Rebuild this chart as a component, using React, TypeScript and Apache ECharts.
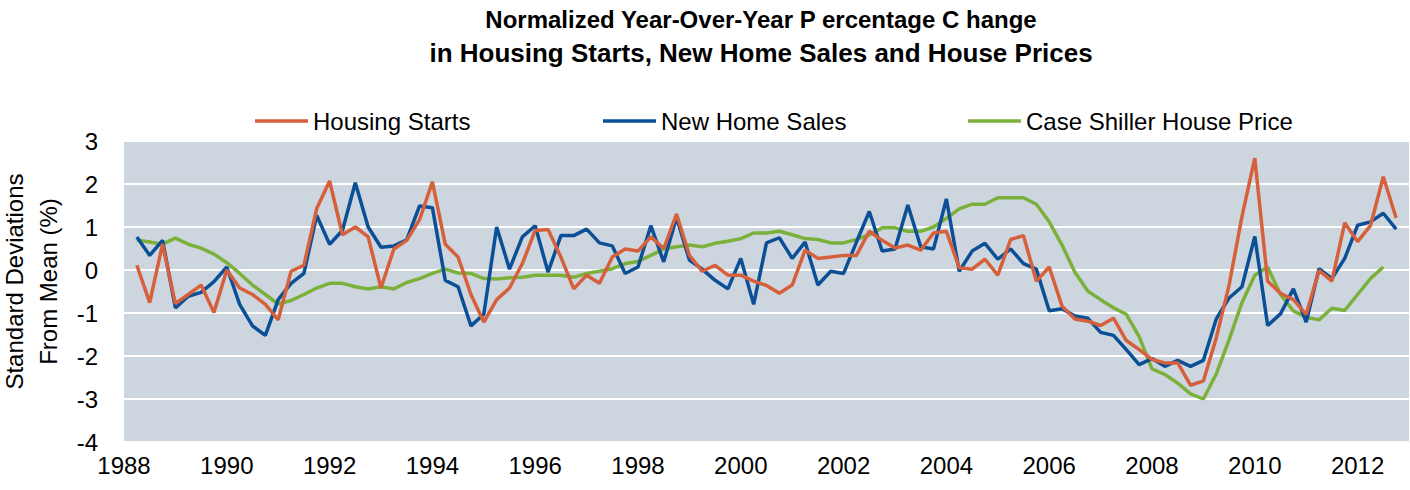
import React, { useEffect, useRef } from "react";
import * as echarts from "echarts";

// Quarterly observations, first at 1988 Q2, one every quarter
const FIRST_QUARTER = 1988.25;
const QUARTER_STEP = 0.25;

const seriesNames = ["Housing Starts", "New Home Sales", "Case Shiller House Price"];

const housingStarts = [
  0.11, -0.76, 0.6, -0.78, -0.57, -0.35, -0.99, 0.0, -0.42, -0.57, -0.8, -1.16, -0.03, 0.11, 1.43, 2.07,
  0.82, 1.0, 0.77, -0.42, 0.49, 0.69, 1.17, 2.05, 0.6, 0.3, -0.57, -1.21, -0.69, -0.42, 0.15, 0.92,
  0.94, 0.3, -0.44, -0.12, -0.31, 0.3, 0.49, 0.44, 0.77, 0.5, 1.3, 0.34, -0.03, 0.11, -0.12, -0.12, -0.26, -0.36,
  -0.54, -0.35, 0.46, 0.27, 0.3, 0.34, 0.34, 0.9, 0.69, 0.51, 0.58, 0.46, 0.86, 0.9, 0.05, 0.02, 0.25,
  -0.12, 0.71, 0.8, -0.26, 0.07, -0.84, -1.14, -1.19, -1.29, -1.12, -1.64, -1.85, -2.08, -2.16, -2.16, -2.68,
  -2.58, -1.58, -0.35, 1.24, 2.6, -0.26, -0.54, -0.69, -1.03, -0.01, -0.26, 1.1, 0.66, 1.03, 2.17, 1.21,
];

const newHomeSales = [
  0.77, 0.34, 0.69, -0.88, -0.61, -0.52, -0.27, 0.07, -0.8, -1.3, -1.52, -0.69, -0.31, -0.08, 1.27, 0.6,
  0.92, 2.03, 1.0, 0.53, 0.56, 0.7, 1.49, 1.45, -0.24, -0.39, -1.3, -1.03, 1.0, 0.02, 0.77, 1.03,
  -0.05, 0.8, 0.8, 0.95, 0.63, 0.56, -0.08, 0.07, 1.03, 0.19, 1.22, 0.23, 0.02, -0.24, -0.44, 0.27, -0.8, 0.63,
  0.75, 0.27, 0.65, -0.35, -0.03, -0.08, 0.65, 1.36, 0.44, 0.49, 1.51, 0.54, 0.49, 1.65, -0.03, 0.44, 0.62,
  0.25, 0.49, 0.15, 0.02, -0.95, -0.9, -1.07, -1.12, -1.45, -1.52, -1.85, -2.2, -2.06, -2.24, -2.1, -2.24,
  -2.1, -1.14, -0.65, -0.39, 0.78, -1.29, -1.02, -0.44, -1.21, 0.03, -0.2, 0.27, 1.04, 1.12, 1.32, 0.95,
];

const caseShiller = [
  0.7, 0.65, 0.6, 0.74, 0.6, 0.51, 0.37, 0.17, -0.08, -0.35, -0.57, -0.79, -0.71, -0.57, -0.42, -0.31,
  -0.31, -0.39, -0.44, -0.39, -0.44, -0.29, -0.2, -0.08, 0.02, -0.07, -0.08, -0.2, -0.21, -0.18, -0.17, -0.12,
  -0.12, -0.12, -0.17, -0.08, -0.03, 0.03, 0.15, 0.2, 0.34, 0.49, 0.54, 0.58, 0.54, 0.62, 0.67, 0.73, 0.86, 0.86,
  0.9, 0.82, 0.73, 0.71, 0.63, 0.63, 0.71, 0.82, 0.98, 0.98, 0.9, 0.9, 1.0, 1.2, 1.42, 1.53, 1.53,
  1.68, 1.68, 1.68, 1.53, 1.12, 0.58, -0.05, -0.49, -0.69, -0.88, -1.03, -1.55, -2.3, -2.43, -2.63, -2.88,
  -3.0, -2.42, -1.62, -0.76, -0.12, 0.07, -0.57, -0.95, -1.1, -1.16, -0.89, -0.94, -0.57, -0.2, 0.07,
];

const titleLines = [
  "Normalized Year-Over-Year P ercentage C hange",
  "in Housing Starts, New Home Sales and House Prices",
];
const yAxisTitle = "Standard Deviations\nFrom Mean (%)";

const X_MIN = 1988;
const X_MAX = 2013;
const X_INTERVAL = 2;
const Y_MIN = -4;
const Y_MAX = 3;
const Y_INTERVAL = 1;

const COLORS = ["#D65F3C", "#0B4F96", "#7BB13A"];
const FONT = "'Liberation Sans', Arial, sans-serif";

function toPoints(values: number[]) {
  return values.map((v, i) => [FIRST_QUARTER + i * QUARTER_STEP, v]);
}

export default function App() {
  const ref = useRef<HTMLDivElement>(null);

  useEffect(() => {
    document.body.style.margin = "0";
    if (!ref.current) return;
    const chart = echarts.init(ref.current, undefined, { renderer: "svg" });
    const allValues = [housingStarts, newHomeSales, caseShiller];
    const legendLeft = [250, 598, 963];
    const titleSizes = [24, 26];
    const titleY = [19, 53];

    chart.setOption({
      animation: false,
      backgroundColor: "#ffffff",
      textStyle: { fontFamily: FONT },
      graphic: titleLines.map((t, i) => ({
        type: "text",
        x: 761,
        y: titleY[i],
        style: {
          text: t,
          fill: "#000",
          font: `bold ${titleSizes[i]}px ${FONT}`,
          textAlign: "center",
          textVerticalAlign: "middle",
        },
      })),
      legend: seriesNames.map((name, i) => ({
        data: [name],
        left: legendLeft[i],
        top: 104,
        icon: "rect",
        itemWidth: 53,
        itemHeight: 3.5,
        itemGap: 0,
        textStyle: { fontSize: 24, color: "#000", fontFamily: FONT },
      })),
      grid: {
        left: 124,
        right: 1,
        top: 141,
        bottom: 48,
        show: true,
        backgroundColor: "#CDD6DF",
        borderWidth: 0,
        containLabel: false,
        outerBoundsMode: "none",
      },
      xAxis: {
        type: "value",
        min: X_MIN,
        max: X_MAX,
        interval: X_INTERVAL,
        axisLine: { show: false },
        axisTick: { show: false },
        splitLine: { show: false },
        axisLabel: {
          fontSize: 24,
          color: "#000",
          fontFamily: FONT,
          margin: 11,
          showMaxLabel: false,
          formatter: (v: number) => (v % 2 === 0 ? String(v) : ""),
        },
      },
      yAxis: {
        type: "value",
        min: Y_MIN,
        max: Y_MAX,
        interval: Y_INTERVAL,
        axisLine: { show: false },
        axisTick: { show: false },
        splitLine: { show: true, lineStyle: { color: "#ffffff", width: 2 } },
        axisLabel: { fontSize: 24, color: "#000", fontFamily: FONT, margin: 26 },
        name: yAxisTitle,
        nameLocation: "middle",
        nameRotate: 90,
        nameGap: 59,
        nameTextStyle: {
          fontSize: 24,
          color: "#000",
          fontFamily: FONT,
          lineHeight: 34,
          padding: [0, 0, 0, 20],
        },
      },
      series: seriesNames.map((name, i) => ({
        name,
        type: "line",
        data: toPoints(allValues[i]),
        symbol: "none",
        showSymbol: false,
        color: COLORS[i],
        lineStyle: { color: COLORS[i], width: 3.5 },
        z: 3 - i,
      })),
    });

    return () => chart.dispose();
  }, []);

  return (
    <div
      ref={ref}
      style={{ position: "fixed", left: 0, top: 0, width: 1410, height: 490 }}
    />
  );
}
